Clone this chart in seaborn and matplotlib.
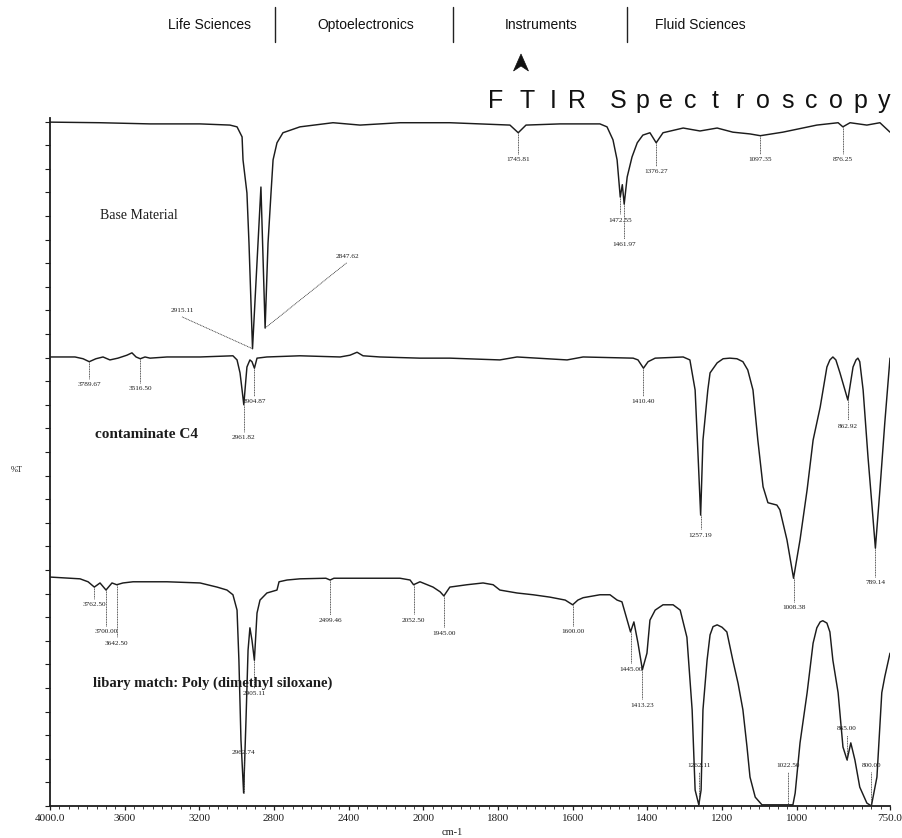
import numpy as np
import pandas as pd
import matplotlib
matplotlib.use("Agg")
import matplotlib.pyplot as plt
from matplotlib.patches import Polygon
import seaborn as sns

# ---------------- spectra (wavenumber in cm-1, stacked %T) ----------------
base_wn = [4000, 3732, 3464, 3196, 3036, 2998, 2971, 2966, 2945, 2934, 2915.11, 2870,
           2847.62, 2832, 2816, 2805, 2784, 2752, 2661, 2484, 2339, 2125, 1929, 1768,
           1745.81, 1725, 1634, 1527, 1508, 1492, 1481, 1472.55, 1467, 1461.97, 1454,
           1441, 1427, 1412, 1393, 1376.27, 1358, 1304, 1259, 1213, 1171, 1125, 1097.35,
           1037, 946, 889, 876.25, 857, 812, 777, 750]
base_t = [115.9, 115.8, 115.6, 115.6, 115.4, 115.1, 113.4, 109.5, 103.9, 95.4, 77.5, 104.9,
          81.0, 95.4, 103.9, 109.5, 112.4, 114.1, 115.1, 115.8, 115.4, 115.8, 115.8, 115.4,
          114.1, 115.4, 115.6, 115.6, 115.1, 112.9, 109.5, 103.2, 105.3, 102.0, 106.6,
          110.0, 112.4, 113.7, 114.1, 112.4, 114.1, 114.9, 114.4, 114.9, 114.2, 113.9, 113.6,
          114.2, 115.4, 115.8, 115.1, 115.8, 115.4, 115.8, 114.2]

c4_wn = [4000, 3866, 3823, 3789.67, 3754, 3716, 3679, 3636, 3588, 3561, 3539, 3516.50,
         3491, 3464, 3373, 3196, 3020, 2998, 2982, 2971, 2961.82, 2953, 2945, 2929, 2918,
         2904.87, 2891, 2838, 2661, 2446, 2393, 2355, 2323, 2232, 2018, 1929, 1795, 1749,
         1615, 1572, 1438, 1425, 1410.40, 1398, 1379, 1304, 1286, 1272, 1264, 1257.19,
         1251, 1238, 1232, 1213, 1197, 1179, 1160, 1144, 1131, 1117, 1104, 1090, 1077,
         1053, 1045, 1026, 1008.38, 991, 972, 956, 937, 919, 911, 903, 895, 884, 862.92,
         849, 841, 836, 831, 822, 809, 798, 789.14, 777, 764, 750]
c4_t = [76.1, 76.1, 75.8, 75.3, 75.8, 76.1, 75.6, 75.9, 76.4, 76.8, 76.1, 75.8,
        76.1, 75.9, 76.1, 76.1, 76.3, 75.6, 73.4, 70.5, 68.0, 71.4, 74.4, 75.6, 75.3,
        74.2, 75.9, 76.1, 76.3, 76.1, 76.4, 76.9, 76.3, 76.1, 75.9, 75.9, 75.6, 76.1,
        75.6, 76.1, 75.9, 75.6, 74.2, 75.3, 75.9, 76.1, 75.6, 70.5, 59.2, 49.3,
        62.0, 70.5, 73.4, 75.1, 75.8, 75.9, 75.8, 75.3, 73.9, 70.5, 62.0, 54.1, 51.4,
        51.0, 50.2, 45.1, 38.6, 45.1, 53.6, 62.0, 67.6, 74.4, 75.6, 76.1, 75.6, 73.4, 68.8,
        74.4, 75.6, 75.9, 75.3, 70.5, 59.2, 50.7, 43.7, 53.6, 64.9, 75.9]

pdms_wn = [4000, 3839, 3796, 3762.50, 3732, 3700.00, 3668, 3642.50, 3609, 3555, 3373,
           3196, 3105, 3052, 3020, 2998, 2988, 2977, 2962.74, 2950, 2939, 2929, 2918,
           2905.11, 2891, 2875, 2838, 2784, 2773, 2730, 2661, 2522, 2499.46, 2479, 2125,
           2071, 2052.50, 2018, 1974, 1955, 1945.00, 1929, 1883, 1840, 1813, 1795, 1749,
           1706, 1661, 1620, 1600.00, 1586, 1572, 1527, 1500, 1481, 1468, 1454, 1445.00,
           1436, 1425, 1413.23, 1401, 1393, 1379, 1358, 1331, 1312, 1294, 1280, 1272,
           1262.11, 1256, 1251, 1240, 1232, 1224, 1213, 1200, 1187, 1171, 1157, 1144,
           1133, 1125, 1111, 1093, 1080, 1022.50, 1010, 1004, 991, 972, 956, 946, 937,
           930, 919, 911, 903, 889, 876, 865.00, 855, 844, 831, 812, 800.00, 785, 772,
           764, 750]
pdms_t = [38.8, 38.5, 38.0, 37.1, 37.8, 36.6, 37.8, 37.5, 37.8, 38.0, 38.0,
          37.8, 37.1, 36.6, 35.8, 33.2, 24.7, 11.2, 2.2, 14.6, 26.4, 30.2, 28.1,
          24.7, 32.7, 34.9, 36.1, 36.6, 38.0, 38.3, 38.5, 38.6, 38.3, 38.6, 38.6,
          38.3, 37.5, 38.0, 37.1, 36.3, 35.6, 37.1, 37.5, 37.8, 37.5, 36.6, 36.1,
          35.8, 35.4, 34.9, 34.1, 34.9, 35.3, 35.8, 35.8, 34.9, 34.6, 31.5, 29.5,
          31.2, 27.6, 23.1, 25.9, 31.5, 33.2, 34.1, 34.1, 33.2, 28.6, 16.3, 2.7,
          0.2, 2.7, 16.3, 24.7, 29.0, 30.4, 30.7, 30.3, 29.5, 24.7, 20.8, 16.3,
          10.0, 4.9, 1.5, 0.2, 0.2, 0.2, 0.2, 2.2, 10.7, 19.2, 27.6, 30.2, 31.2,
          31.4, 31.0, 29.5, 24.7, 19.2, 10.0, 7.8, 10.7, 7.8, 3.2, 0.5, 0.0, 4.9, 19.2,
          21.9, 25.9]

# ---------------- peak picks: (peak, label height[, label wavenumber]) ----------------
base_peaks = [2915.11, 2847.62, 1745.81, 1472.55, 1461.97, 1376.27, 1097.35, 876.25]
base_label_y = [83.9, 93.1, 109.5, 99.3, 95.1, 107.5, 109.5, 109.5]
base_label_wn = [3293, 2409, None, None, None, None, None, None]

c4_peaks = [3789.67, 3516.50, 2961.82, 2904.87, 1410.40, 1257.19, 1008.38, 862.92, 789.14]
c4_label_y = [71.4, 70.7, 62.4, 68.5, 68.5, 45.9, 33.6, 64.4, 37.8]

pdms_peaks = [3762.50, 3700.00, 3642.50, 2962.74, 2905.11, 2499.46, 2052.50, 1945.00,
              1600.00, 1445.00, 1413.23, 1262.11, 1022.50, 865.00, 800.00]
pdms_label_y = [34.1, 29.5, 27.6, 9.0, 19.0, 31.4, 31.5, 29.3,
                29.5, 23.2, 17.1, 6.8, 6.8, 13.1, 6.8]

sample_names = ["Base Material", "contaminate C4", "libary match: Poly (dimethyl siloxane)"]
x_ticks = [4000, 3600, 3200, 2800, 2400, 2000, 1800, 1600, 1400, 1200, 1000, 750]
x_tick_labels = ["4000.0", "3600", "3200", "2800", "2400", "2000",
                 "1800", "1600", "1400", "1200", "1000", "750.0"]
header_items = ["Life Sciences", "Optoelectronics", "Instruments", "Fluid Sciences"]

# ---------------- figure ----------------
sns.set_style("ticks")
plt.rcParams["font.family"] = ["Liberation Serif", "DejaVu Serif"]

W, H = 902, 838
fig = plt.figure(figsize=(W / 100, H / 100), dpi=100)
ax = fig.add_axes([50 / W, 32 / H, 840 / W, 688 / H])

frames = []
for name, wn, t in zip(sample_names, [base_wn, c4_wn, pdms_wn], [base_t, c4_t, pdms_t]):
    frames.append(pd.DataFrame({"wavenumber": wn, "T": t, "sample": name}))
df = pd.concat(frames, ignore_index=True)

ink = "#1c1c1c"
sns.lineplot(data=df, x="wavenumber", y="T", hue="sample", units="sample",
             estimator=None, sort=False, legend=False,
             palette=[ink] * 3, linewidth=1.05, ax=ax)


# spectrometer style axis: 2x expansion below 2000 cm-1
def _fwd(w):
    w = np.asarray(w, dtype=float)
    return np.where(w >= 2000, w, 2 * w - 2000)


def _inv(v):
    v = np.asarray(v, dtype=float)
    return np.where(v >= 2000, v, (v + 2000) / 2)


ax.set_xscale("function", functions=(_fwd, _inv))
ax.set_xlim(4000, 750)
ax.set_ylim(0, 116.6)

ax.set_xticks(x_ticks)
ax.set_xticklabels(x_tick_labels, fontsize=8)
minor = list(range(3950, 2000, -50)) + list(range(1975, 750, -25))
ax.set_xticks([m for m in minor if m not in x_ticks], minor=True)
ax.set_yticks(np.arange(0, 117, 4))
ax.set_yticklabels([])
ax.tick_params(axis="x", which="major", length=3, width=0.9, pad=3, colors=ink)
ax.tick_params(axis="x", which="minor", length=1.8, width=0.6, colors=ink)
ax.tick_params(axis="y", which="major", length=3.5, width=0.8, colors=ink)
for s in ["top", "right"]:
    ax.spines[s].set_visible(False)
for s in ["left", "bottom"]:
    ax.spines[s].set_linewidth(1.3)
    ax.spines[s].set_color(ink)
ax.set_xlabel("")
ax.set_ylabel("")
ax.patch.set_alpha(0)


def pick(wn, t, peaks, label_y, label_wn=None):
    wn_a = np.asarray(wn)[::-1]
    t_a = np.asarray(t)[::-1]
    for i, (p, ly) in enumerate(zip(peaks, label_y)):
        y0 = float(np.interp(p, wn_a, t_a))
        lx = p if (label_wn is None or label_wn[i] is None) else label_wn[i]
        below = ly < y0
        end_y = ly + (1.0 if below else -1.0)
        ax.plot([p, lx], [y0, end_y], color="#333333", lw=0.6,
                linestyle=(0, (1.2, 0.8)), zorder=3)
        ax.text(lx, ly, f"{p:.2f}", ha="center", va="center", fontsize=5.2,
                color=ink, zorder=4)


pick(base_wn, base_t, base_peaks, base_label_y, base_label_wn)
pick(c4_wn, c4_t, c4_peaks, c4_label_y)
pick(pdms_wn, pdms_t, pdms_peaks, pdms_label_y)

# sample captions
ax.text(3732, 100.0, sample_names[0], fontsize=10, ha="left", va="center", color=ink)
ax.text(3759, 62.9, sample_names[1], fontsize=11, fontweight="bold",
        ha="left", va="center", color=ink)
ax.text(3770, 20.8, sample_names[2], fontsize=10.5, fontweight="bold",
        ha="left", va="center", color=ink)


def fx(px):
    return px / W


def fy(py):
    return 1 - py / H


fig.text(fx(17), fy(470), "%T", fontsize=6, ha="center", va="center", color=ink)
fig.text(fx(452), fy(832), "cm-1", fontsize=7.5, ha="center", va="center", color=ink)

# banner across the top
sans = ["Liberation Sans Narrow", "Liberation Sans", "DejaVu Sans"]
for label, cx in zip(header_items, [209, 366, 541, 700]):
    fig.text(fx(cx), fy(25), label, fontsize=10, ha="center", va="center",
             family=sans, color="#111111")
for sx in [275, 453, 627]:
    fig.add_artist(plt.Line2D([fx(sx), fx(sx)], [fy(7), fy(42)],
                              transform=fig.transFigure, color="#222222", lw=1.0))
arrow = Polygon([[fx(521), fy(54)], [fx(513.5), fy(71)], [fx(521), fy(66)],
                 [fx(528.5), fy(71)]], closed=True, transform=fig.transFigure,
                facecolor="#111111", edgecolor="#111111", lw=0.5)
fig.add_artist(arrow)

title_chars = list("FTIR") + list("Spectroscopy")
title_x = [496, 527, 553, 577] + [618 + 24.2 * i for i in range(12)]
for ch, cx in zip(title_chars, title_x):
    fig.text(fx(cx), fy(101), ch, fontsize=18, ha="center", va="center",
             family=["Liberation Sans", "DejaVu Sans"], color="#111111")

fig.savefig("out.png", dpi=100, facecolor="white")
